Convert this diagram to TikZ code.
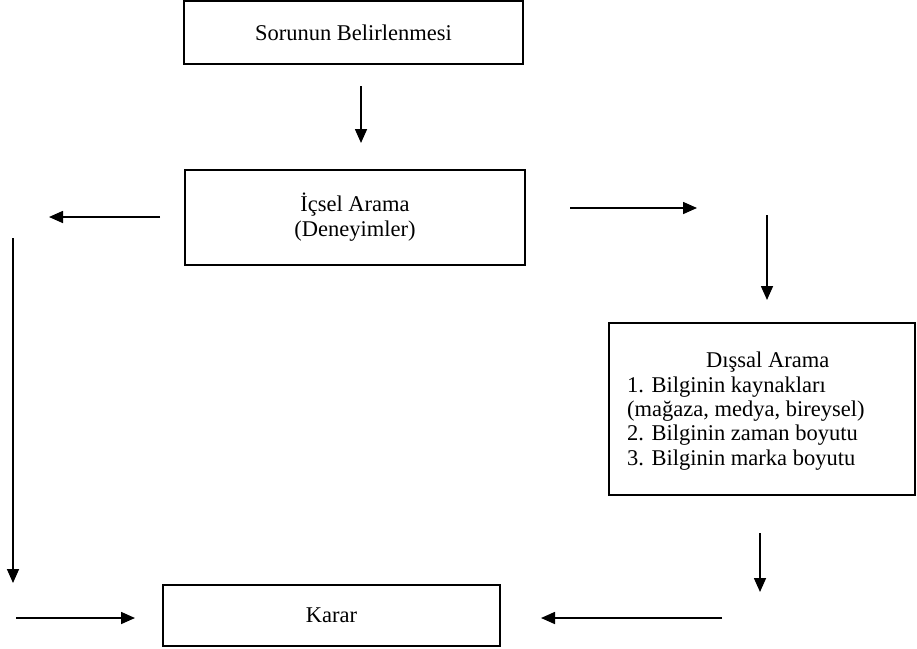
\documentclass[tikz,border=0pt]{standalone}
\usepackage{fontspec}
\setmainfont{Liberation Serif}
\usetikzlibrary{arrows.meta}
\begin{document}
\begin{tikzpicture}[x=1pt,y=-1pt,
  box/.style={draw, line width=1.6pt, inner sep=0pt, align=center, font=\fontsize{22.5}{25}\selectfont},
  txt/.style={inner sep=0pt, align=left, font=\fontsize{22.5}{24.3}\selectfont},
  arr/.style={line width=1.6pt, -{Triangle[length=14pt,width=12pt]}}]
\useasboundingbox (0,0) rectangle (917,648);
\node[box, minimum width=339pt, minimum height=63pt] (s) at (353.5,32.5) {Sorunun Belirlenmesi};
\node[box, minimum width=340pt, minimum height=95pt] (i) at (355,217.5) {İçsel Arama\\(Deneyimler)};
\node[box, minimum width=306pt, minimum height=172pt] (d) at (762,409) {};
\node[txt, anchor=north west] (dt) at (627,352) {\hspace*{79pt}Dışsal Arama\\1. Bilginin kaynakları\\(mağaza, medya, bireysel)\\2. Bilginin zaman boyutu\\3. Bilginin marka boyutu};
\node[box, minimum width=337pt, minimum height=61pt] (k) at (331.5,615.5) {Karar};
\coordinate (a1s) at (361,86);  \coordinate (a1e) at (361,143);
\coordinate (a2s) at (160,217); \coordinate (a2e) at (49,217);
\coordinate (a3s) at (570,208); \coordinate (a3e) at (697,208);
\coordinate (a4s) at (767,215); \coordinate (a4e) at (767,300);
\coordinate (a5s) at (13,238);  \coordinate (a5e) at (13,583);
\coordinate (a6s) at (16,618);  \coordinate (a6e) at (135,618);
\coordinate (a7s) at (760,533); \coordinate (a7e) at (760,592);
\coordinate (a8s) at (722,618); \coordinate (a8e) at (541,618);
\draw[arr] (a1s) -- (a1e);
\draw[arr] (a2s) -- (a2e);
\draw[arr] (a3s) -- (a3e);
\draw[arr] (a4s) -- (a4e);
\draw[arr] (a5s) -- (a5e);
\draw[arr] (a6s) -- (a6e);
\draw[arr] (a7s) -- (a7e);
\draw[arr] (a8s) -- (a8e);
\end{tikzpicture}
\end{document}
